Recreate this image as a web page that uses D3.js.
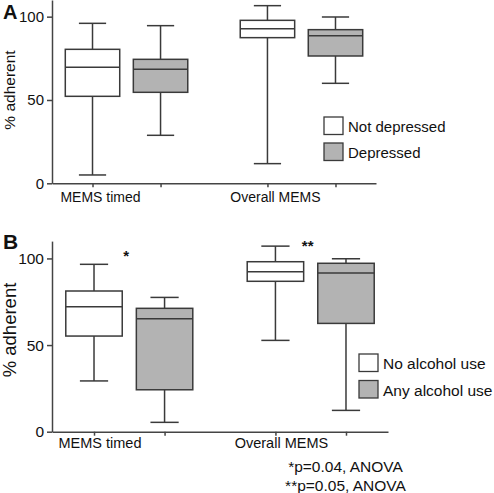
<!DOCTYPE html>
<html>
<head>
<meta charset="utf-8">
<script src="https://cdn.jsdelivr.net/npm/d3@7"></script>
<style>
  html, body { margin: 0; padding: 0; background: #fff; }
  svg { display: block; }
  text { font-family: "Liberation Sans", Arial, Helvetica, sans-serif; fill: #111; }
</style>
</head>
<body>
<script>
// ---------- data ----------
const groups = ["MEMS timed", "Overall MEMS"];
const yTicks = [0, 50, 100];

const seriesA = ["Not depressed", "Depressed"];
// [min, q1, median, q3, max] per group
const notDepressed = [[5, 52.2, 69.6, 80.4, 96], [11.8, 87.4, 92.8, 97.8, 106.6]];
const depressed    = [[28.8, 54.6, 68.4, 74.4, 94.6], [60, 76.4, 88.6, 92.2, 99.8]];

const seriesB = ["No alcohol use", "Any alcohol use"];
const noAlcohol  = [[29.3, 55.2, 72.1, 81.2, 96.6], [52.7, 86.8, 92.3, 98.1, 107.1]];
const anyAlcohol = [[5.4, 24.2, 65.2, 71.2, 77.5], [12.3, 62.5, 91.6, 97.2, 99.8]];

const sigMarks = ["*", "**"];
const sigLevels = [98.5, 104.3];
const footnotes = ["*p=0.04, ANOVA", "**p=0.05, ANOVA"];

const fills = ["#ffffff", "#b3b3b3"];

// ---------- drawing ----------
const W = 494, H = 493;
const svg = d3.select("body").append("svg").attr("width", W).attr("height", H);

function drawPanel(opt) {
  const g = svg.append("g");
  const y = d3.scaleLinear().domain([0, 110]).range([opt.y0, opt.yTop]);
  const gx = d3.scaleBand().domain(groups).range([opt.x0, opt.x1])
      .paddingInner(0.3).paddingOuter(0.076);
  const sx = d3.scaleBand().domain(d3.range(opt.series.length)).range([0, gx.bandwidth()])
      .paddingInner(0.2).paddingOuter(0);
  const cx = (gi, si) => gx(groups[gi]) + sx(si) + sx.bandwidth() / 2;
  const bw = sx.bandwidth();

  // y axis
  const ya = g.append("g").attr("transform", `translate(${opt.x0},0)`)
    .call(d3.axisLeft(y).tickValues(yTicks).tickSize(5).tickPadding(3).tickSizeOuter(0));
  ya.selectAll("path, line").attr("stroke", "#444").attr("stroke-width", 1.5);
  ya.selectAll("text").attr("font-size", opt.tickFont).attr("fill", "#111")
    .style("font-family", '"Liberation Sans", Arial, sans-serif');

  // x axis
  const centers = [];
  groups.forEach((grp, gi) => opt.series.forEach((s, si) => centers.push(cx(gi, si))));
  const xs = d3.scaleLinear().domain([opt.x0, opt.x1]).range([opt.x0, opt.x1]);
  const xa = g.append("g").attr("transform", `translate(0,${opt.y0})`)
    .call(d3.axisBottom(xs).tickValues(centers).tickSize(4).tickSizeOuter(0).tickFormat(""));
  xa.selectAll("path, line").attr("stroke", "#444").attr("stroke-width", 1.5);

  // category labels
  groups.forEach((grp, gi) => {
    g.append("text").attr("x", cx(gi, 0) + opt.labelShift).attr("y", opt.labelY)
      .attr("text-anchor", "middle").attr("font-size", opt.catFont).text(grp);
  });

  // boxes
  opt.data.forEach((ser, si) => {
    ser.forEach((st, gi) => {
      const c = cx(gi, si);
      const [mn, q1, md, q3, mx] = st;
      const bg = g.append("g").attr("stroke", "#3a3a3a").attr("stroke-width", 1.5);
      bg.append("line").attr("x1", c).attr("x2", c).attr("y1", y(mx)).attr("y2", y(q3));
      bg.append("line").attr("x1", c).attr("x2", c).attr("y1", y(q1)).attr("y2", y(mn));
      bg.append("line").attr("x1", c - bw / 4).attr("x2", c + bw / 4).attr("y1", y(mx)).attr("y2", y(mx));
      bg.append("line").attr("x1", c - bw / 4).attr("x2", c + bw / 4).attr("y1", y(mn)).attr("y2", y(mn));
      bg.append("rect").attr("x", c - bw / 2).attr("width", bw)
        .attr("y", y(q3)).attr("height", y(q1) - y(q3)).attr("fill", fills[si]);
      bg.append("line").attr("x1", c - bw / 2).attr("x2", c + bw / 2).attr("y1", y(md)).attr("y2", y(md));
    });
  });

  // legend
  const lg = g.append("g").attr("transform", `translate(${opt.legX},${opt.legY})`);
  opt.series.forEach((s, si) => {
    lg.append("rect").attr("x", 0).attr("y", si * opt.legStep).attr("width", 19).attr("height", 17.5)
      .attr("fill", fills[si]).attr("stroke", "#3a3a3a").attr("stroke-width", 1.3);
    lg.append("text").attr("x", 24).attr("y", si * opt.legStep + 15).attr("font-size", opt.legFont).text(s);
  });

  // y label
  g.append("text").attr("transform", `translate(${opt.yLabX},${opt.yLabY}) rotate(-90)`)
    .attr("text-anchor", "middle").attr("font-size", opt.yLabFont).text("% adherent");

  // panel letter
  g.append("text").attr("x", 3).attr("y", opt.letterY).attr("font-size", opt.letterFont)
    .attr("font-weight", "bold").attr("fill", "#000").text(opt.letter);

  return { y, gx, cx };
}

drawPanel({
  letter: "A", letterY: 19, letterFont: 20,
  x0: 52, x1: 376, y0: 183.3, yTop: 0,
  series: seriesA, data: [notDepressed, depressed],
  tickFont: 15, catFont: 14, labelShift: 8, labelY: 202,
  legX: 324, legY: 117, legStep: 26, legFont: 15,
  yLabX: 15, yLabY: 90, yLabFont: 15.5
});

const pB = drawPanel({
  letter: "B", letterY: 249, letterFont: 21,
  x0: 52, x1: 388, y0: 431.7, yTop: 241.1,
  series: seriesB, data: [noAlcohol, anyAlcohol],
  tickFont: 15.5, catFont: 14.5, labelShift: 6, labelY: 448,
  legX: 359, legY: 354, legStep: 26.5, legFont: 15.5,
  yLabX: 16, yLabY: 330, yLabFont: 18.5
});

// significance marks
sigMarks.forEach((m, gi) => {
  svg.append("text").attr("x", pB.gx(groups[gi]) + pB.gx.bandwidth() / 2 - 3)
    .attr("y", pB.y(sigLevels[gi])).attr("text-anchor", "middle").attr("font-size", 15)
    .attr("font-weight", "bold").text(m);
});

// footnotes
footnotes.forEach((f, i) => {
  svg.append("text").attr("x", 345.5).attr("y", 472 + i * 19).attr("text-anchor", "middle")
    .attr("font-size", 15.5).text(f);
});
</script>
</body>
</html>
